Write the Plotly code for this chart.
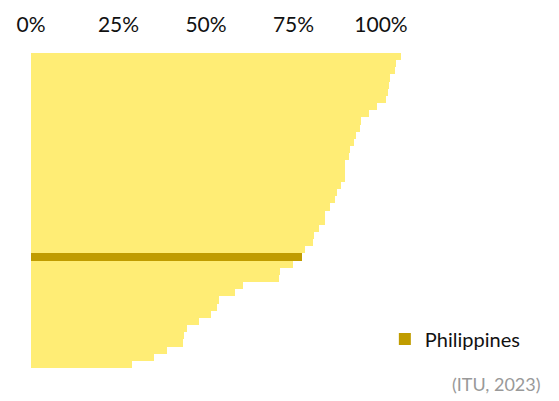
import plotly.graph_objects as go

countries = [f"Country {i}" for i in range(1, 29)] + ["Philippines"] + [f"Country {i}" for i in range(30, 45)]
values = [105.8, 104.3, 103.9, 102.6, 102.2, 102.0, 101.4, 98.8, 96.7, 94.2,
          94.0, 92.9, 92.3, 91.1, 90.8, 89.7, 89.7, 89.7, 88.5, 87.3,
          86.8, 85.4, 84.1, 84.1, 82.4, 80.9, 80.5, 78.3, 77.4, 74.8,
          71.1, 70.8, 60.5, 58.2, 53.6, 53.0, 51.5, 48.1, 44.5, 43.7,
          43.3, 38.8, 35.1, 28.9]
highlight = "Philippines"
tick_vals = [0, 25, 50, 75, 100]
tick_text = ["0%", "25%", "50%", "75%", "100%"]
source = "(ITU, 2023)"

other_y = [c for c in countries if c != highlight]
other_x = [v for c, v in zip(countries, values) if c != highlight]
hl_x = [v for c, v in zip(countries, values) if c == highlight]

fig = go.Figure()
fig.add_trace(go.Bar(y=other_y, x=other_x, orientation="h",
                     marker=dict(color="#FFED75", line=dict(width=0)),
                     showlegend=False, name="Others"))
fig.add_trace(go.Bar(y=[highlight], x=hl_x, orientation="h",
                     marker=dict(color="#C09C00", line=dict(width=0)),
                     showlegend=True, name="Philippines"))

# page has an 8px body margin; figure size/margins compensate for it
fig.update_layout(
    width=551, height=393,
    margin=dict(l=23, r=3, t=42, b=33),
    paper_bgcolor="white", plot_bgcolor="white",
    barmode="overlay", bargap=0,
    font=dict(family="Lato, sans-serif", color="#111111"),
    xaxis=dict(side="top", range=[0, 150], tickvals=tick_vals, ticktext=tick_text,
               showgrid=False, zeroline=False, showline=False, ticks="",
               tickfont=dict(size=21, color="#111111"), ticklabelstandoff=16),
    yaxis=dict(categoryorder="array", categoryarray=countries, autorange="reversed",
               showticklabels=False, showgrid=False, zeroline=False, ticks=""),
    legend=dict(x=0.674, y=0.092, xanchor="left", yanchor="middle",
                font=dict(size=20, color="#111111"), bgcolor="rgba(0,0,0,0)",
                itemwidth=30),
    annotations=[dict(text=source, xref="paper", yref="paper", x=0.975, y=-0.05,
                      xanchor="right", yanchor="middle", showarrow=False,
                      font=dict(size=18, color="#999999"))],
)

fig.write_html("out.html")
